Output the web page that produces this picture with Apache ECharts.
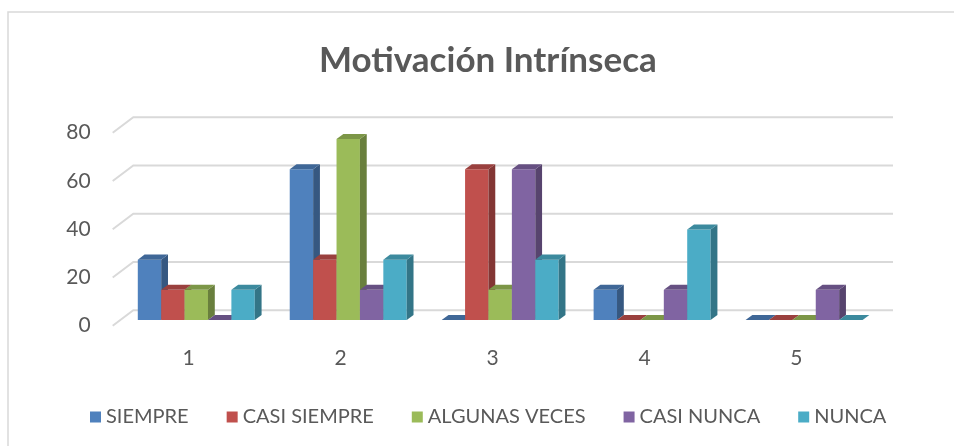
<!DOCTYPE html>
<html>
<head>
<meta charset="utf-8">
<script src="https://cdn.jsdelivr.net/npm/echarts@6/dist/echarts.min.js"></script>
<style>
  html, body { margin: 0; padding: 0; background: #fff; }
  #chart { width: 954px; height: 446px; }
</style>
</head>
<body>
<div id="chart"></div>
<script>
// data
const categories = ['1', '2', '3', '4', '5']
const seriesNames = ['SIEMPRE', 'CASI SIEMPRE', 'ALGUNAS VECES', 'CASI NUNCA', 'NUNCA']
const siempre = [25, 62.5, 0, 12.5, 0]
const casiSiempre = [12.5, 25, 62.5, 0, 0]
const algunasVeces = [12.5, 75, 12.5, 0, 0]
const casiNunca = [0, 12.5, 62.5, 12.5, 12.5]
const nunca = [12.5, 25, 25, 37.5, 0]
const yTicks = [0, 20, 40, 60, 80]

const values = [siempre, casiSiempre, algunasVeces, casiNunca, nunca]
const colors = ['#4F81BD', '#C0504D', '#9BBB59', '#8064A2', '#4BACC6']

// fake 3d: depth of the floor / back wall
const DX = 20.6
const DY = -15.4
const BAR_FRONT = 0.37
const BAR_DEPTH = 0.33
const BAR_FRAC = 0.154

function shade(hex, k) {
  let n = parseInt(hex.slice(1), 16)
  let r = Math.round(((n >> 16) & 255) * k)
  let g = Math.round(((n >> 8) & 255) * k)
  let b = Math.round((n & 255) * k)
  return 'rgb(' + r + ',' + g + ',' + b + ')'
}

function barRenderer(idx) {
  return function (params, api) {
    let cat = api.value(0)
    let base = api.coord([cat, 0])
    let top = api.coord([cat, api.value(1)])
    let band = api.size([1, 0])[0]
    let bw = band * BAR_FRAC
    let ox = BAR_FRONT * DX
    let oy = BAR_FRONT * DY
    let dx = BAR_DEPTH * DX
    let dy = BAR_DEPTH * DY
    let x0 = base[0] - bw * 2.5 + idx * bw + ox
    let x1 = x0 + bw
    let yb = base[1] + oy
    let yt = top[1] + oy
    let c = colors[idx]
    return {
      type: 'group',
      children: [
        {
          type: 'polygon',
          shape: { points: [[x0, yb], [x1, yb], [x1, yt], [x0, yt]] },
          style: { fill: c }
        },
        {
          type: 'polygon',
          shape: { points: [[x1, yb], [x1 + dx, yb + dy], [x1 + dx, yt + dy], [x1, yt]] },
          style: { fill: shade(c, 0.68) }
        },
        {
          type: 'polygon',
          shape: { points: [[x0, yt], [x1, yt], [x1 + dx, yt + dy], [x0 + dx, yt + dy]] },
          style: { fill: shade(c, 0.8) }
        }
      ]
    }
  }
}

function wallRenderer(params, api) {
  let p = api.coord([0, api.value(1)])
  let x = params.coordSys.x
  let w = params.coordSys.width
  return {
    type: 'polyline',
    shape: { points: [[x, p[1]], [x + DX, p[1] + DY], [x + w + DX, p[1] + DY]] },
    style: { stroke: '#d9d9d9', lineWidth: 2, fill: null }
  }
}

let chart = echarts.init(document.getElementById('chart'))

let series = [
  {
    name: 'wall',
    type: 'custom',
    renderItem: wallRenderer,
    data: yTicks.map(v => [0, v]),
    silent: true,
    z: 1
  }
]
seriesNames.forEach((name, i) => {
  series.push({
    name: name,
    type: 'custom',
    renderItem: barRenderer(i),
    itemStyle: { color: colors[i] },
    data: values[i].map((v, j) => [j, v]),
    z: 2
  })
})

const options = {
  animation: false,
  textStyle: { fontFamily: 'Lato' },
  graphic: [
    {
      type: 'rect',
      shape: { x: 8, y: 12, width: 950, height: 440 },
      style: { fill: null, stroke: '#d9d9d9', lineWidth: 1.5 },
      silent: true
    }
  ],
  title: {
    text: 'Motivación Intrínseca',
    left: 314,
    top: 38,
    textStyle: { fontFamily: 'Lato', fontSize: 35, fontWeight: 'bold', color: '#595959' }
  },
  legend: {
    data: seriesNames,
    top: 402,
    left: 85,
    icon: 'rect',
    itemWidth: 11,
    itemHeight: 11,
    itemGap: 38,
    textStyle: { fontFamily: 'Lato', fontSize: 20, color: '#595959' }
  },
  grid: {
    left: 112.7,
    right: 81.6,
    top: 132.7,
    bottom: 120.3,
    containLabel: false
  },
  xAxis: {
    type: 'category',
    data: categories,
    axisLine: { show: false },
    axisTick: { show: false },
    axisLabel: { margin: 22, fontSize: 21, color: '#595959', fontFamily: 'Lato' }
  },
  yAxis: {
    type: 'value',
    min: 0,
    max: 80,
    interval: 20,
    splitLine: { show: false },
    axisLine: { show: false },
    axisTick: { show: false },
    axisLabel: { margin: 22, fontSize: 21, color: '#595959', fontFamily: 'Lato' }
  },
  series: series
}
chart.setOption(options)
</script>
</body>
</html>
